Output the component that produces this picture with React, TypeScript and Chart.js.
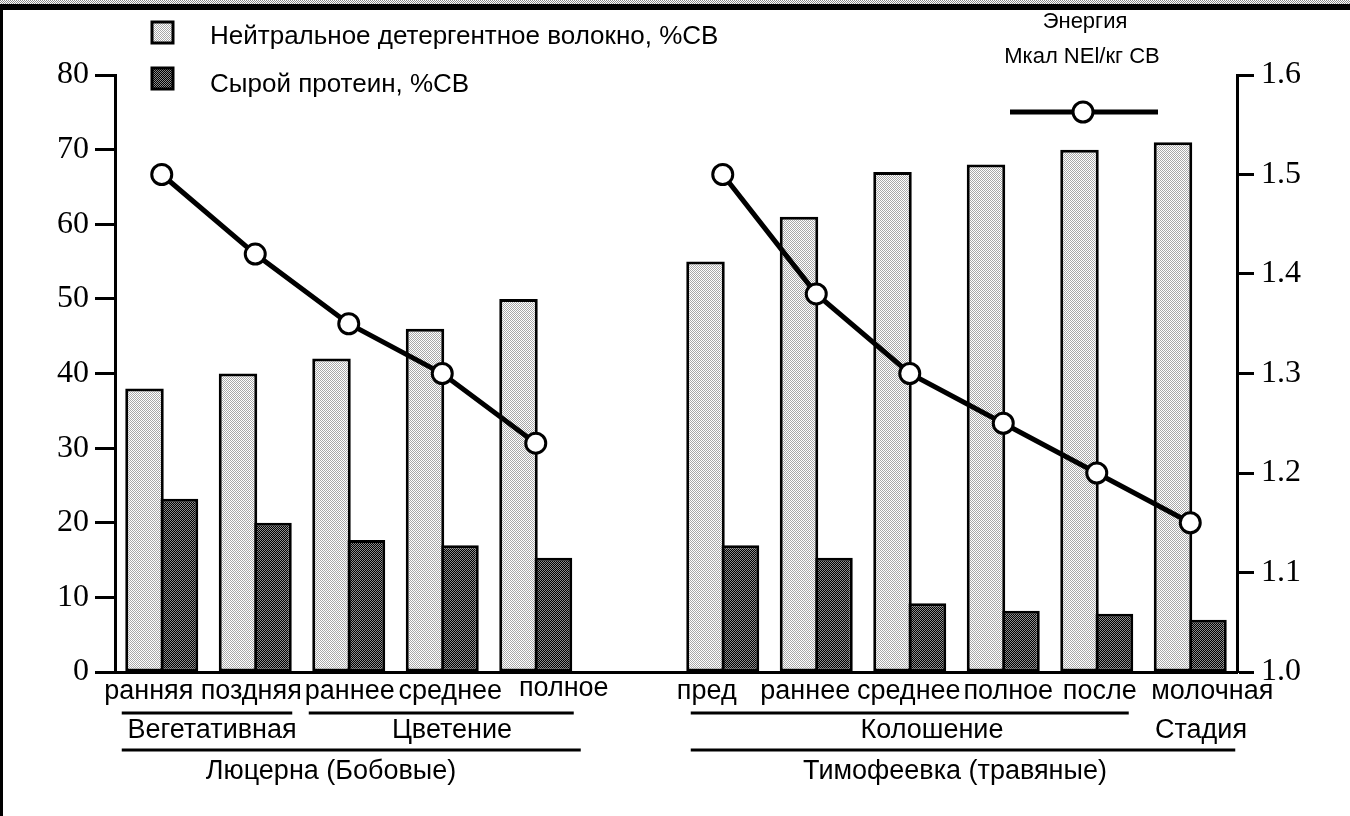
import React, { useEffect, useRef } from "react";
import { Chart, registerables } from "chart.js";

Chart.register(...registerables);

const categories = ["ранняя", "поздняя", "раннее", "среднее", "полное", "", "пред", "раннее", "среднее", "полное", "после", "молочная"];
const ndfValues = [38, 40, 42, 46, 50, null, 55, 61, 67, 68, 70, 71];
const proteinValues = [23.2, 20, 17.7, 17, 15.3, null, 17, 15.3, 9.2, 8.2, 7.8, 7];
const energyValues = [1.5, 1.42, 1.35, 1.3, 1.23, null, 1.5, 1.38, 1.3, 1.25, 1.2, 1.15];
const leftAxis = { min: 0, max: 80, step: 10 };
const rightAxis = { min: 1.0, max: 1.6, step: 0.1 };
const ndfLabel = "Нейтральное детергентное волокно, %СВ";
const proteinLabel = "Сырой протеин, %СВ";
const energyTitle = ["Энергия", "Мкал NEl/кг СВ"];
// stage groups: text, first category index, last category index
const stageGroups = [
  { text: "Вегетативная", from: 0, to: 1 },
  { text: "Цветение", from: 2, to: 4 },
  { text: "Колошение", from: 6, to: 10 },
  { text: "Стадия", from: 11, to: 11 },
];
const cropGroups = [
  { text: "Люцерна (Бобовые)", from: 0, to: 4 },
  { text: "Тимофеевка (травяные)", from: 6, to: 11 },
];

// layout (style only)
const labelDx = [-13, -4, 1, 8, 28, 0, -16, -11, -1, 5, 3, 22];
const labelDy = [0, 0, 0, 0, -3, 0, 0, 0, 0, 0, 0, 0];
const stageLayout = [
  { l: -40, r: 37, line: true, tx: 212 },
  { l: -40, r: 38, line: true, tx: 452 },
  { l: -32, r: 32, line: true, tx: 932 },
  { l: 0, r: 0, line: false, tx: 1201 },
];
const cropLayout = [
  { l: -40, r: 45, tx: 331 },
  { l: -32, r: 45, tx: 955 },
];

const SANS = "'Liberation Sans', Arial, sans-serif";
const SERIF = "'Liberation Serif', 'Times New Roman', serif";

function makePattern(base: string, dot: string) {
  const c = document.createElement("canvas");
  c.width = 2;
  c.height = 2;
  const g = c.getContext("2d")!;
  g.fillStyle = base;
  g.fillRect(0, 0, 2, 2);
  g.fillStyle = dot;
  g.fillRect(0, 0, 1, 1);
  g.fillRect(1, 1, 1, 1);
  return g.createPattern(c, "repeat")!;
}

export default function App() {
  const ref = useRef<HTMLCanvasElement>(null);

  useEffect(() => {
    const canvas = ref.current!;
    const lightPat = makePattern("#ffffff", "#a8a8a8");
    const darkPat = makePattern("#000000", "#8c8c8c");
    const bandPat = makePattern("#ffffff", "#8a8a8a");

    const decor = {
      id: "decor",
      afterDraw(chart: any) {
        const ctx = chart.ctx as CanvasRenderingContext2D;
        const xs = chart.scales.x;
        const px = (i: number) => xs.getPixelForValue(i);
        ctx.save();
        // frame
        ctx.fillStyle = bandPat;
        ctx.fillRect(0, 0, 1350, 4);
        ctx.fillStyle = "#000";
        ctx.fillRect(0, 4, 1350, 6);
        ctx.fillRect(0, 4, 3, 812);

        ctx.strokeStyle = "#000";
        ctx.lineWidth = 3;
        ctx.fillStyle = "#000";
        ctx.textAlign = "center";
        ctx.textBaseline = "middle";
        ctx.font = `27px ${SANS}`;

        // category labels
        categories.forEach((c, i) => {
          if (!c) return;
          ctx.fillText(c, px(i) + labelDx[i], xs.top + 20 + labelDy[i]);
        });

        stageGroups.forEach((g, k) => {
          const L = stageLayout[k];
          const a = px(g.from) + L.l;
          const b = px(g.to) + L.r;
          if (L.line) {
            ctx.beginPath();
            ctx.moveTo(a, 713);
            ctx.lineTo(b, 713);
            ctx.stroke();
          }
          ctx.fillText(g.text, L.tx, 731);
        });
        cropGroups.forEach((g, k) => {
          const L = cropLayout[k];
          const a = px(g.from) + L.l;
          const b = px(g.to) + L.r;
          ctx.beginPath();
          ctx.moveTo(a, 750);
          ctx.lineTo(b, 750);
          ctx.stroke();
          ctx.fillText(g.text, L.tx, 772);
        });

        // legend
        ctx.textAlign = "left";
        ctx.font = `26px ${SANS}`;
        const sw = (y: number, pat: CanvasPattern) => {
          ctx.fillStyle = pat;
          ctx.fillRect(152, y, 21, 21);
          ctx.lineWidth = 3;
          ctx.strokeRect(152, y, 21, 21);
        };
        sw(22, lightPat);
        sw(68, darkPat);
        ctx.fillStyle = "#000";
        ctx.fillText(ndfLabel, 210, 37);
        ctx.fillText(proteinLabel, 210, 85);

        ctx.textAlign = "center";
        ctx.font = `22px ${SANS}`;
        ctx.fillText(energyTitle[0], 1085, 22);
        ctx.fillText(energyTitle[1], 1082, 57);
        ctx.lineWidth = 5;
        ctx.beginPath();
        ctx.moveTo(1010, 112);
        ctx.lineTo(1158, 112);
        ctx.stroke();
        ctx.beginPath();
        ctx.arc(1083, 112, 10, 0, Math.PI * 2);
        ctx.fillStyle = "#fff";
        ctx.fill();
        ctx.lineWidth = 3;
        ctx.stroke();
        ctx.restore();
      },
    };

    const chart = new Chart(canvas, {
      type: "bar",
      data: {
        labels: categories,
        datasets: [
          {
            type: "line",
            label: "energy",
            data: energyValues,
            yAxisID: "y1",
            order: -1,
            borderColor: "#000",
            borderWidth: 5,
            spanGaps: false,
            pointRadius: 10,
            pointBackgroundColor: "#fff",
            pointBorderColor: "#000",
            pointBorderWidth: 3,
            tension: 0,
          } as any,
          {
            label: ndfLabel,
            data: ndfValues,
            yAxisID: "y",
            backgroundColor: lightPat,
            borderColor: "#000",
            borderWidth: 3,
            borderSkipped: false,
            barPercentage: 1.116,
            categoryPercentage: 0.738,
          },
          {
            label: proteinLabel,
            data: proteinValues,
            yAxisID: "y",
            backgroundColor: darkPat,
            borderColor: "#000",
            borderWidth: 3,
            borderSkipped: false,
            barPercentage: 1.116,
            categoryPercentage: 0.738,
          },
        ],
      },
      options: {
        responsive: false,
        animation: false,
        devicePixelRatio: 1,
        layout: { padding: { top: 75, left: 0, right: 0, bottom: 0 } },
        plugins: { legend: { display: false }, tooltip: { enabled: false } },
        scales: {
          x: {
            type: "category",
            offset: true,
            grid: { display: true, drawOnChartArea: false, drawTicks: false },
            border: { display: true, color: "#000", width: 3 },
            ticks: { display: false },
            afterFit: (s: any) => {
              s.height = 144;
            },
          },
          y: {
            position: "left",
            min: leftAxis.min,
            max: leftAxis.max,
            grid: { drawOnChartArea: false, tickLength: 20, tickWidth: 3, color: "#000" },
            border: { color: "#000", width: 3 },
            ticks: { stepSize: leftAxis.step, color: "#000", font: { family: SERIF, size: 32 }, padding: 6 },
            afterFit: (s: any) => {
              s.width = 115;
            },
          },
          y1: {
            position: "right",
            min: rightAxis.min,
            max: rightAxis.max,
            grid: { drawOnChartArea: false, tickLength: 17, tickWidth: 3, color: "#000" },
            border: { color: "#000", width: 3 },
            ticks: {
              stepSize: rightAxis.step,
              color: "#000",
              font: { family: SERIF, size: 32 },
              padding: 7,
              callback: (v: any) => Number(v).toFixed(1),
            },
            afterFit: (s: any) => {
              s.width = 113;
            },
          },
        },
      },
      plugins: [decor],
    });
    return () => chart.destroy();
  }, []);

  return (
    <div style={{ position: "fixed", left: 0, top: 0, width: 1350, height: 816, background: "#fff" }}>
      <canvas ref={ref} width={1350} height={816} style={{ display: "block" }} />
    </div>
  );
}
